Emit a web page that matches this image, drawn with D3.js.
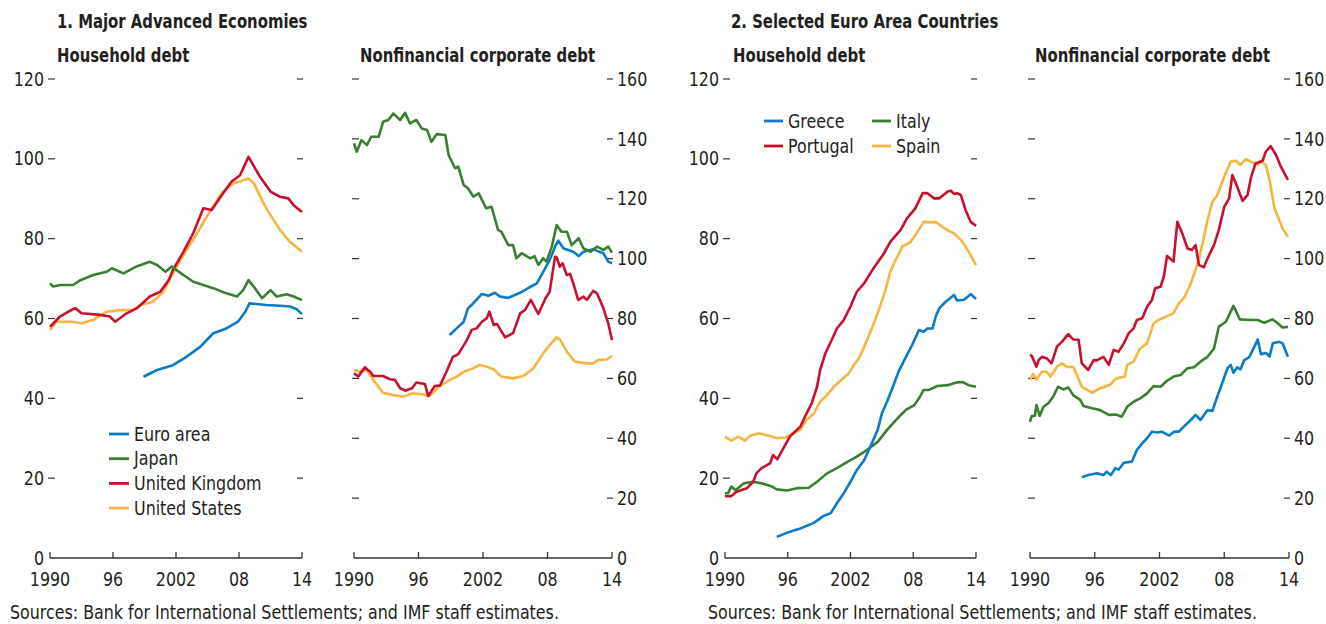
<!DOCTYPE html>
<html>
<head>
<meta charset="utf-8">
<script src="https://cdn.jsdelivr.net/npm/d3@7"></script>
<style>
  body { margin: 0; background: #fff; }
  svg text { font-family: 'Liberation Sans Narrow', 'DejaVu Sans Condensed', sans-serif; fill: #231f20; }
</style>
</head>
<body>
<svg id="chart" width="1326" height="624"></svg>
<script>
// [year, percent of GDP]
const xTicks = [1990, 1996, 2002, 2008, 2014];
const xTickLabels = ['1990', '96', '2002', '08', '14'];
const householdTicks = [0, 20, 40, 60, 80, 100, 120];
const corporateTicks = [0, 20, 40, 60, 80, 100, 120, 140, 160];

// 1. Major Advanced Economies, household debt
const hhEuroArea = [[1998.9,45.4],[2000.2,47.1],[2001.7,48.3],[2003,50.4],[2004.3,52.9],[2005.55,56.3],[2006.8,57.5],[2007.9,59.2],[2008.6,61.7],[2009,63.8],[2010.6,63.4],[2011.9,63.2],[2012.85,63.0],[2013.5,62.3],[2014,61.1]];
const hhJapan = [[1990,68.8],[1990.3,68.0],[1991,68.4],[1992.2,68.4],[1992.9,69.6],[1994.1,70.9],[1995.4,71.7],[1995.9,72.6],[1997,71.3],[1998.3,73.1],[1999.5,74.2],[2000.2,73.4],[2001,71.7],[2001.6,73.0],[2002.7,70.9],[2003.65,69.2],[2004.6,68.4],[2005.55,67.6],[2006.8,66.3],[2007.8,65.5],[2008.4,67.1],[2008.9,69.6],[2009.4,68.0],[2010.2,65.1],[2011,67.1],[2011.6,65.5],[2012.55,66.1],[2013.2,65.5],[2014,64.6]];
const hhUK = [[1990,57.9],[1990.95,60.5],[1991.6,61.5],[1992.4,62.6],[1993,61.3],[1994.8,60.9],[1995.7,60.5],[1996.2,59.2],[1997.3,61.3],[1998.3,62.6],[1999.5,65.5],[2000.5,66.7],[2001.3,69.6],[2001.7,72.1],[2002.7,76.7],[2003.65,81.4],[2004.6,87.6],[2005.4,87.2],[2006.35,90.9],[2007.3,94.3],[2008.1,95.9],[2008.9,100.5],[2010,95.5],[2011,91.8],[2011.9,90.5],[2012.7,90.1],[2013.2,88.4],[2014,86.7]];
const hhUS = [[1990,57.1],[1990.6,59.2],[1992.2,59.2],[1993,58.8],[1994.1,59.6],[1995.4,61.7],[1996.7,62.1],[1997.9,62.1],[1998.6,63.4],[1999.8,64.2],[2000.8,66.7],[2001.7,71.3],[2002.7,75.9],[2004,81.3],[2005.2,86.7],[2006.35,91.4],[2007.45,93.9],[2008.1,94.3],[2008.9,95.1],[2009.4,93.9],[2010.6,87.6],[2011.9,82.2],[2012.85,79.2],[2014,76.7]];

// 1. Major Advanced Economies, nonfinancial corporate debt
const corpEuroArea = [[1998.9,74.5],[1999.55,76.7],[2000.2,78.9],[2000.6,83.4],[2001.1,85.1],[2001.9,88.2],[2002.5,87.6],[2003.1,88.6],[2003.6,87.3],[2004.35,86.9],[2005.45,88.6],[2006.4,90.6],[2007,91.7],[2007.6,95.6],[2008.2,99.5],[2008.7,104.0],[2009,106.0],[2009.5,103.4],[2010.4,102.3],[2010.9,100.9],[2011.35,102.3],[2012.25,103.1],[2013.2,101.8],[2013.65,99.0],[2014,98.4]];
const corpJapan = [[1990,138.5],[1990.25,135.7],[1990.7,139.6],[1991.2,137.9],[1991.6,140.7],[1992.3,140.7],[1992.7,145.7],[1993.2,146.3],[1993.65,148.5],[1994.3,146.3],[1994.75,148.7],[1995.2,145.2],[1995.8,146.3],[1996.3,143.5],[1996.8,143.0],[1997.2,139.0],[1997.7,141.6],[1998.5,141.3],[1998.8,134.6],[1999.4,130.2],[1999.7,130.7],[2000.2,124.6],[2000.6,123.5],[2001.1,120.7],[2001.6,121.8],[2002.3,116.8],[2002.8,117.3],[2003.4,109.6],[2003.7,109.0],[2004.35,104.5],[2004.8,104.5],[2005.1,100.1],[2005.6,101.8],[2006.4,100.1],[2006.8,100.8],[2007.15,97.9],[2007.6,100.1],[2007.9,99.0],[2008.4,104.0],[2008.85,111.2],[2009.3,109.0],[2009.8,109.0],[2010.25,104.5],[2010.9,106.8],[2011.35,103.4],[2012,102.3],[2012.6,104.0],[2013.2,102.9],[2013.65,104.0],[2014,102.0]];
const corpUK = [[1990,61.7],[1990.4,60.6],[1991,63.7],[1991.5,62.2],[1991.8,60.8],[1992.7,60.8],[1993.35,59.7],[1993.8,59.5],[1994.3,56.7],[1994.75,55.9],[1995.4,56.7],[1995.8,58.6],[1996.6,58.1],[1996.9,54.1],[1997.5,57.4],[1998,57.6],[1998.6,62.2],[1999.2,67.2],[1999.7,68.1],[2000.5,72.8],[2000.95,76.2],[2001.4,76.7],[2001.9,78.9],[2002.35,80.1],[2002.6,82.3],[2003,77.8],[2003.3,78.2],[2004.05,73.7],[2004.8,75.1],[2005.45,81.7],[2005.9,82.8],[2006.45,86.2],[2007.15,81.5],[2007.8,86.7],[2008.2,88.9],[2008.7,100.6],[2008.85,100.4],[2009.15,97.3],[2009.4,98.4],[2009.8,94.5],[2010.1,94.9],[2010.4,91.7],[2010.85,86.2],[2011.35,87.3],[2011.65,86.2],[2012.25,89.2],[2012.6,88.4],[2013.2,83.4],[2013.65,78.4],[2014,72.8]];
const corpUS = [[1990,62.8],[1990.7,62.2],[1991.2,62.8],[1991.8,59.5],[1992.7,55.2],[1993.65,54.4],[1994.6,53.9],[1995.4,55.0],[1996.3,54.7],[1997,54.1],[1998,57.4],[1998.9,59.5],[1999.55,60.6],[2000.2,62.2],[2001.1,63.4],[2001.7,64.5],[2002.35,63.9],[2003,63.0],[2003.7,60.6],[2004.8,60.0],[2005.75,60.8],[2006.7,63.4],[2007.6,68.4],[2008.2,71.1],[2008.85,73.7],[2009.15,73.0],[2009.8,68.9],[2010.55,65.6],[2011.65,65.0],[2012.25,65.0],[2012.7,66.1],[2013.5,66.3],[2014,67.5]];

// 2. Selected Euro Area Countries, household debt
const hhGreece = [[1994.95,5.3],[1995.9,6.3],[1997.2,7.4],[1998.5,8.8],[1999.4,10.5],[2000.1,11.2],[2000.7,13.7],[2001.35,16.2],[2002,19.1],[2002.6,22.0],[2003.3,24.5],[2003.9,27.9],[2004.6,32.1],[2005,36.2],[2005.5,39.2],[2006,42.5],[2006.6,46.7],[2007.3,50.4],[2007.9,53.4],[2008.55,57.1],[2009,56.7],[2009.35,57.5],[2009.85,57.5],[2010.15,60.5],[2010.5,62.6],[2011.1,64.2],[2011.9,65.9],[2012.2,64.5],[2012.85,64.7],[2013.5,66.1],[2014,64.9]];
const hhItaly = [[1990,16.2],[1990.3,16.3],[1990.6,17.9],[1991,17.0],[1991.8,18.7],[1992.7,19.1],[1993.5,18.7],[1994.5,17.9],[1994.95,17.2],[1995.9,16.9],[1996.9,17.5],[1998,17.6],[1998.8,19.1],[1999.75,21.2],[2000.7,22.5],[2001.7,24.1],[2002.6,25.4],[2003.6,27.1],[2004.6,29.1],[2005.5,32.1],[2006.5,35.0],[2007.3,37.1],[2008.1,38.3],[2008.55,40.0],[2009,42.1],[2009.5,42.1],[2010.3,43.1],[2011.3,43.3],[2012.2,44.0],[2012.7,44.1],[2013.3,43.3],[2014,42.9]];
const hhPortugal = [[1990,15.5],[1990.6,15.5],[1991.1,16.6],[1992.1,17.5],[1992.7,19.1],[1993,21.2],[1993.5,22.5],[1994.3,23.7],[1994.6,25.8],[1995,24.7],[1996.2,30.4],[1997.2,32.9],[1997.8,36.2],[1998.3,38.8],[1998.8,42.9],[1999.1,47.1],[1999.6,51.3],[2000.2,54.6],[2000.7,57.5],[2001.35,59.6],[2002,63.0],[2002.6,66.7],[2003.3,68.8],[2004.2,72.6],[2005.2,76.3],[2005.8,79.2],[2006.8,82.2],[2007.4,85.1],[2008.2,87.6],[2008.9,91.4],[2009.35,91.4],[2010,90.1],[2010.5,90.1],[2011.3,91.8],[2011.6,92.0],[2011.9,91.2],[2012.2,91.4],[2012.55,90.9],[2013,87.2],[2013.5,84.2],[2014,83.2]];
const hhSpain = [[1990,30.4],[1990.6,29.4],[1991.3,30.4],[1991.9,29.4],[1992.4,30.6],[1993.2,31.2],[1994.3,30.6],[1994.95,30.0],[1995.75,30.2],[1996.55,31.2],[1997.2,32.1],[1997.8,34.6],[1998.5,36.2],[1999.1,39.2],[1999.75,40.8],[2000.4,42.9],[2001.2,44.8],[2001.85,46.3],[2002.3,48.3],[2002.8,50.0],[2003.3,52.9],[2004.1,57.9],[2004.7,62.1],[2005.35,67.1],[2005.8,71.7],[2006.3,74.6],[2006.95,78.0],[2007.75,79.2],[2008.4,81.7],[2009,84.2],[2009.7,84.1],[2010.15,84.2],[2010.95,82.6],[2011.9,81.3],[2012.55,79.7],[2013.2,77.2],[2014,73.4]];

// 2. Selected Euro Area Countries, nonfinancial corporate debt
const corpGreece = [[1994.8,27.0],[1995.4,27.7],[1996.2,28.3],[1996.8,27.7],[1997.1,28.8],[1997.5,27.7],[1997.9,30.0],[1998.2,29.5],[1998.7,31.8],[1999.45,32.2],[1999.9,36.1],[2000.4,38.3],[2000.85,40.0],[2001.3,42.2],[2001.8,41.9],[2002.2,42.2],[2002.9,40.9],[2003.35,42.2],[2003.8,42.2],[2004.25,43.9],[2004.9,46.1],[2005.35,47.8],[2005.8,46.1],[2006.45,49.4],[2006.9,49.1],[2007.35,53.9],[2007.8,58.3],[2008.3,63.4],[2008.6,64.5],[2008.85,61.9],[2009.2,63.7],[2009.5,63.0],[2009.85,66.1],[2010.3,67.0],[2010.8,70.6],[2011.1,73.0],[2011.4,68.1],[2011.85,68.5],[2012.2,67.3],[2012.5,71.7],[2013.1,72.2],[2013.4,71.7],[2013.9,67.2]];
const corpItaly = [[1990,45.5],[1990.15,47.4],[1990.45,47.5],[1990.6,51.1],[1990.9,47.5],[1991.25,50.5],[1991.7,51.7],[1992.15,53.9],[1992.6,57.2],[1993.1,56.3],[1993.55,57.0],[1994,54.4],[1994.65,52.8],[1994.95,50.8],[1995.75,50.0],[1996.5,49.4],[1997.3,47.8],[1998,47.9],[1998.5,47.2],[1999,50.5],[1999.6,52.2],[2000.2,53.3],[2000.85,55.0],[2001.45,57.4],[2002.1,57.2],[2002.7,59.2],[2003.3,60.6],[2003.95,61.1],[2004.6,63.4],[2005.2,63.7],[2005.8,65.6],[2006.45,67.2],[2007.05,70.0],[2007.5,77.3],[2008.15,78.9],[2008.6,82.3],[2008.85,84.2],[2009.2,81.6],[2009.45,79.7],[2010.45,79.5],[2011.1,79.5],[2011.7,78.6],[2012.5,79.7],[2012.95,78.4],[2013.4,77.0],[2013.9,77.2]];
const corpPortugal = [[1990,67.8],[1990.15,67.6],[1990.6,63.9],[1990.8,66.1],[1991.1,67.2],[1991.55,66.7],[1992,65.0],[1992.5,70.6],[1992.95,72.2],[1993.55,74.8],[1994,73.0],[1994.5,72.9],[1994.8,65.0],[1995.4,62.8],[1995.9,66.1],[1996.2,66.0],[1996.8,67.2],[1997.3,64.5],[1997.75,69.5],[1998.2,68.9],[1998.7,71.7],[1999.15,75.1],[1999.6,76.7],[1999.9,79.5],[2000.4,80.1],[2000.85,83.9],[2001.3,86.2],[2001.6,90.1],[2002.1,90.6],[2002.4,94.0],[2002.7,100.9],[2003.3,99.0],[2003.65,112.3],[2004.1,108.5],[2004.6,103.4],[2005,102.9],[2005.35,104.5],[2005.65,97.9],[2006.1,97.1],[2006.6,101.2],[2007.05,104.5],[2007.5,109.6],[2008,117.3],[2008.45,120.1],[2008.75,127.9],[2009.2,124.0],[2009.7,119.3],[2010.15,121.2],[2010.5,127.4],[2010.9,131.8],[2011.55,132.7],[2011.85,135.7],[2012.3,137.6],[2012.8,134.6],[2013.25,130.7],[2013.9,126.3]];
const corpSpain = [[1990,59.5],[1990.3,61.5],[1990.6,59.6],[1991.1,62.2],[1991.55,62.2],[1991.9,60.6],[1992.5,63.9],[1992.95,65.0],[1993.4,63.8],[1994,63.9],[1994.35,61.1],[1994.8,57.2],[1995.75,55.2],[1996.5,56.7],[1997.4,57.8],[1998,60.0],[1998.8,60.6],[1999,64.5],[1999.6,65.6],[2000.2,70.0],[2000.85,71.7],[2001.45,78.4],[2001.9,79.5],[2002.7,80.8],[2003.3,81.7],[2003.8,85.1],[2004.25,86.7],[2004.9,91.7],[2005.5,97.9],[2006,105.1],[2006.45,112.9],[2006.9,119.0],[2007.35,121.2],[2008,127.4],[2008.6,132.4],[2009.05,132.7],[2009.5,131.3],[2010,133.2],[2010.45,132.4],[2011.1,131.3],[2011.4,132.4],[2011.85,131.3],[2012.2,126.3],[2012.65,116.8],[2013.1,112.9],[2013.4,110.1],[2013.9,107.3]];

const colors = {blue: '#0a7bc4', green: '#38802f', red: '#c8102e', yellow: '#f5b53f'};

const svg = d3.select('#chart');
const yBottom = 558, yTop = 79;

// no narrow font installed, so squeeze the condensed one horizontally
function addText(parent, x, y, str, size, anchor, bold){
  return parent.append('text')
    .attr('transform', 'translate(' + x + ',' + y + ') scale(' + (bold ? 0.87 : 0.93) + ',1)')
    .attr('dy', '0.35em')
    .attr('text-anchor', anchor || 'start')
    .attr('font-size', size + 'px')
    .attr('font-weight', bold ? 'bold' : 'normal')
    .text(str);
}

function drawPanel(p){
  let xScale = d3.scaleLinear().domain([1990, 2014]).range([p.x0, p.x1]);
  let yScale = d3.scaleLinear().domain([0, p.yMax]).range([yBottom, yTop]);
  let g = svg.append('g');

  // y ticks: short dashes on both sides, no vertical axis line
  p.ticks.forEach(function(t){
    if(t === 0) return;
    g.append('line')
     .attr('x1', p.x0 - 2).attr('x2', p.x0 + 5)
     .attr('y1', yScale(t)).attr('y2', yScale(t))
     .attr('stroke', '#333').attr('stroke-width', 1.2);
    g.append('line')
     .attr('x1', p.x1 - 5).attr('x2', p.x1 + 1)
     .attr('y1', yScale(t)).attr('y2', yScale(t))
     .attr('stroke', '#333').attr('stroke-width', 1.2);
  });
  p.ticks.forEach(function(t){
    if(p.leftLabels) addText(g, p.x0 - 6, yScale(t), t, 19, 'end');
    if(p.rightLabels) addText(g, p.x1 + 5, yScale(t), t, 19, 'start');
  });

  // x axis: baseline with upward ticks
  g.append('line')
   .attr('x1', p.x0).attr('x2', p.x1)
   .attr('y1', yBottom).attr('y2', yBottom)
   .attr('stroke', '#333').attr('stroke-width', 1.3);
  xTicks.forEach(function(t, i){
    g.append('line')
     .attr('x1', xScale(t)).attr('x2', xScale(t))
     .attr('y1', yBottom).attr('y2', yBottom - 6)
     .attr('stroke', '#333').attr('stroke-width', 1.3);
    addText(g, xScale(t), yBottom + 21, xTickLabels[i], 19, 'middle');
  });

  let line = d3.line()
    .x(function(d){ return xScale(d[0]); })
    .y(function(d){ return yScale(d[1]); });
  p.series.forEach(function(s){
    g.append('path')
     .attr('d', line(s.data))
     .attr('fill', 'none')
     .attr('stroke', s.color)
     .attr('stroke-width', 2.6)
     .attr('stroke-linejoin', 'round');
  });

  addText(g, p.titleX, 55, p.title, 19, 'start', true);
}

drawPanel({x0: 50, x1: 302, yMax: 120, ticks: householdTicks, leftLabels: true, rightLabels: false,
  title: 'Household debt', titleX: 57,
  series: [{data: hhUS, color: colors.yellow}, {data: hhUK, color: colors.red},
           {data: hhJapan, color: colors.green}, {data: hhEuroArea, color: colors.blue}]});
drawPanel({x0: 354, x1: 612, yMax: 160, ticks: corporateTicks, leftLabels: false, rightLabels: true,
  title: 'Nonfinancial corporate debt', titleX: 360,
  series: [{data: corpUS, color: colors.yellow}, {data: corpUK, color: colors.red},
           {data: corpEuroArea, color: colors.blue}, {data: corpJapan, color: colors.green}]});
drawPanel({x0: 725, x1: 976, yMax: 120, ticks: householdTicks, leftLabels: true, rightLabels: false,
  title: 'Household debt', titleX: 733,
  series: [{data: hhSpain, color: colors.yellow}, {data: hhItaly, color: colors.green},
           {data: hhPortugal, color: colors.red}, {data: hhGreece, color: colors.blue}]});
drawPanel({x0: 1030, x1: 1289, yMax: 160, ticks: corporateTicks, leftLabels: false, rightLabels: true,
  title: 'Nonfinancial corporate debt', titleX: 1035,
  series: [{data: corpSpain, color: colors.yellow}, {data: corpPortugal, color: colors.red},
           {data: corpItaly, color: colors.green}, {data: corpGreece, color: colors.blue}]});

// section titles
addText(svg, 57, 21, '1. Major Advanced Economies', 19, 'start', true);
addText(svg, 731, 21, '2. Selected Euro Area Countries', 19, 'start', true);

// sources
addText(svg, 10, 612, 'Sources: Bank for International Settlements; and IMF staff estimates.', 19);
addText(svg, 708, 612, 'Sources: Bank for International Settlements; and IMF staff estimates.', 19);

// legends
const legend1 = [['Euro area', colors.blue], ['Japan', colors.green], ['United Kingdom', colors.red], ['United States', colors.yellow]];
legend1.forEach(function(d, i){
  let y = 434 + i * 24.7;
  svg.append('line').attr('x1', 109).attr('x2', 129).attr('y1', y).attr('y2', y)
     .attr('stroke', d[1]).attr('stroke-width', 2.8);
  addText(svg, 134, y, d[0], 19);
});
const legend2 = [['Greece', colors.blue, 0, 0], ['Italy', colors.green, 1, 0], ['Portugal', colors.red, 0, 1], ['Spain', colors.yellow, 1, 1]];
legend2.forEach(function(d){
  let x = 764 + d[2] * 108, y = 121 + d[3] * 25;
  svg.append('line').attr('x1', x).attr('x2', x + 19).attr('y1', y).attr('y2', y)
     .attr('stroke', d[1]).attr('stroke-width', 2.8);
  addText(svg, x + 24, y, d[0], 19);
});
</script>
</body>
</html>
